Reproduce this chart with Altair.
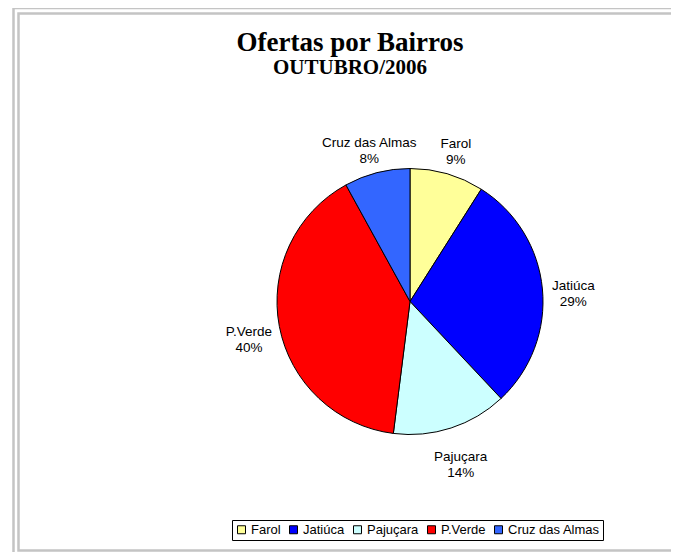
import altair as alt
import pandas as pd

categories = ["Farol", "Jatiúca", "Pajuçara", "P.Verde", "Cruz das Almas"]
percents = [9, 29, 14, 40, 8]
colors = ["#FFFF99", "#0000FF", "#CCFFFF", "#FF0000", "#3366FF"]

df = pd.DataFrame({
    "bairro": categories,
    "pct": percents,
    "ordem": list(range(len(categories))),
})
df["rotulo"] = [f"{c}\n{p}%" for c, p in zip(categories, percents)]

W, H = 663, 544
CX, CY = 402, 293.5
R = 133

color = alt.Color(
    "bairro:N",
    scale=alt.Scale(domain=categories, range=colors),
    legend=alt.Legend(
        title=None, orient="none", legendX=224, legendY=512,
        direction="horizontal", columns=5, symbolType="square", symbolSize=64,
        symbolStrokeColor="black", symbolStrokeWidth=1,
        labelFont="Liberation Sans", labelFontSize=13, labelColor="black",
        labelOffset=3, columnPadding=6, padding=3,
        strokeColor="black", fillColor="white",
    ),
)

frame_data = alt.Chart(pd.DataFrame({"k": [0]}))
outer = frame_data.mark_rect(filled=False, stroke="#c4c4c4", strokeWidth=2.5).encode(
    x=alt.value(5.5), x2=alt.value(W + 30), y=alt.value(0), y2=alt.value(H + 30)
)
inner = frame_data.mark_rect(filled=False, stroke="#c4c4c4", strokeWidth=2.5).encode(
    x=alt.value(10.5), x2=alt.value(W + 30), y=alt.value(5.5), y2=alt.value(H - 1.5)
)

base = alt.Chart(df)
pie = base.mark_arc(outerRadius=R, stroke="black", strokeWidth=1).encode(
    theta=alt.Theta("pct:Q", stack=True),
    color=color,
    order=alt.Order("ordem:Q"),
    x=alt.value(CX),
    y=alt.value(CY),
)
labels = base.mark_text(
    radius=164, font="Liberation Sans", fontSize=13.5, lineBreak="\n",
    lineHeight=16, align="center", baseline="middle", color="black",
).encode(
    theta=alt.Theta("pct:Q", stack=True),
    detail="bairro:N",
    order=alt.Order("ordem:Q"),
    text="rotulo:N",
    x=alt.value(CX),
    y=alt.value(CY),
)

chart = alt.layer(outer, inner, pie, labels).properties(
    width=W, height=H,
    autosize=alt.AutoSizeParams(type="none"),
    padding=0,
    background="white",
    title=alt.TitleParams(
        text="Ofertas por Bairros", subtitle="OUTUBRO/2006",
        font="Liberation Serif", fontSize=27, fontWeight="bold", color="black",
        subtitleFont="Liberation Serif", subtitleFontSize=21,
        subtitleFontWeight="bold", subtitleColor="black", subtitlePadding=0,
        anchor="middle", frame="group", offset=-72, dx=10.5,
    ),
).configure_view(stroke=None)

chart.save("out.html", embed_options={"renderer": "svg", "actions": False})
